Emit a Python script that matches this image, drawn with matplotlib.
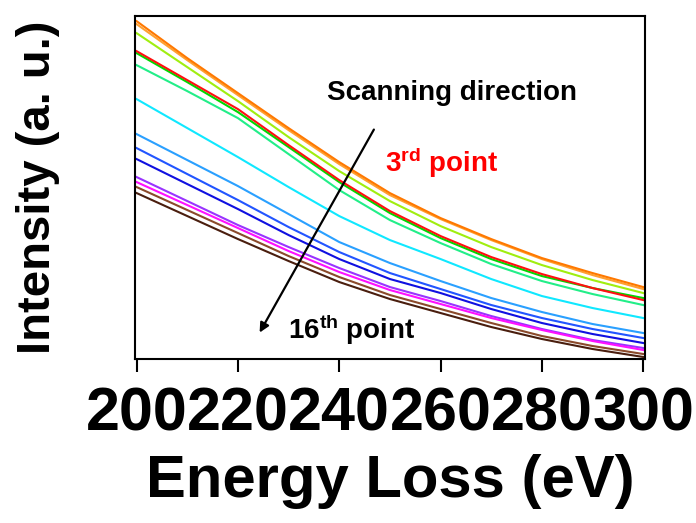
import matplotlib.pyplot as plt

plt.rcParams['font.family'] = ['Liberation Sans', 'DejaVu Sans']
plt.rcParams['mathtext.fontset'] = 'custom'
plt.rcParams['mathtext.bf'] = 'Liberation Sans:bold'
plt.rcParams['mathtext.rm'] = 'Liberation Sans:bold'

# Energy loss axis (eV)
energy = [200, 210, 220, 230, 240, 250, 260, 270, 280, 290, 300]

# Intensity (a. u.) of each scanned point along the line scan
spectra = [
    [335, 299, 264, 229, 195, 164, 140, 119, 100, 84, 70],
    [338, 301, 266, 231, 197, 166, 141, 120, 101, 86, 72],
    [326, 292, 258, 222, 188, 158, 133, 112, 94, 79, 66],
    [306, 277, 247, 212, 177, 146, 121, 100, 83, 71, 61],
    [308, 279, 250, 214, 179, 148, 123, 102, 85, 71, 59],
    [294, 268, 241, 205, 169, 139, 116, 95, 78, 65, 54],
    [260, 231, 202, 172, 143, 119, 100, 80, 63, 51, 41],
    [225, 199, 173, 145, 117, 96, 78, 61, 47, 35, 26],
    [211, 185, 159, 132, 107, 86, 70, 54, 41, 30, 21],
    [200, 175, 150, 124, 100, 80, 66, 50, 36, 25, 16],
    [182, 158, 134, 112, 91, 72, 58, 43, 30, 19, 11],
    [177, 154, 131, 108, 87, 69, 55, 41, 29, 18, 9],
    [172, 149, 126, 103, 82, 64, 50, 36, 23, 13, 5],
    [166, 143, 120, 98, 77, 60, 46, 32, 20, 10, 2],
]
colors = ['#FFA030', '#FF7800', '#A0EE10', '#00D800', '#FF1010', '#22EE88',
          '#10E8FF', '#2AA0FF', '#2255FF', '#1010E0', '#9933FF', '#FF10FF',
          '#8B4A2B', '#4A1E0E']

xticks = [200, 220, 240, 260, 280, 300]

fig = plt.figure(figsize=(6.96, 5.23), dpi=100)
ax = fig.add_axes([0.1935, 0.3136, 0.7335, 0.6554])

for y, c in zip(spectra, colors):
    ax.plot(energy, y, color=c, lw=1.5)

ax.set_xlim(199.6, 300.4)
ax.set_ylim(0, 343)
ax.set_xticks(xticks)
ax.set_xticklabels([str(t) for t in xticks], fontsize=44, fontweight='bold')
ax.set_yticks([])
ax.tick_params(axis='x', direction='out', length=9.5, width=1.5, pad=10)
for s in ax.spines.values():
    s.set_linewidth(1.5)

ax.set_xlabel('Energy Loss (eV)', fontsize=43, fontweight='bold', labelpad=8)
ax.set_ylabel('Intensity (a. u.)', fontsize=34, fontweight='bold', labelpad=54)

# scanning direction arrow and labels
ax.annotate('', xy=(224.0, 24), xytext=(247.1, 232),
            arrowprops=dict(arrowstyle='-|>', color='black', lw=1.6,
                            mutation_scale=14))
ax.text(237.6, 266, 'Scanning direction', fontsize=20, fontweight='bold',
        ha='left', va='center')
ax.text(249.0, 196, r'$\mathbf{3^{rd}}$ point', fontsize=20, fontweight='bold',
        color='red', ha='left', va='center')
ax.text(229.9, 29, r'$\mathbf{16^{th}}$ point', fontsize=20, fontweight='bold',
        ha='left', va='center')

fig.savefig('out.png', dpi=100)
